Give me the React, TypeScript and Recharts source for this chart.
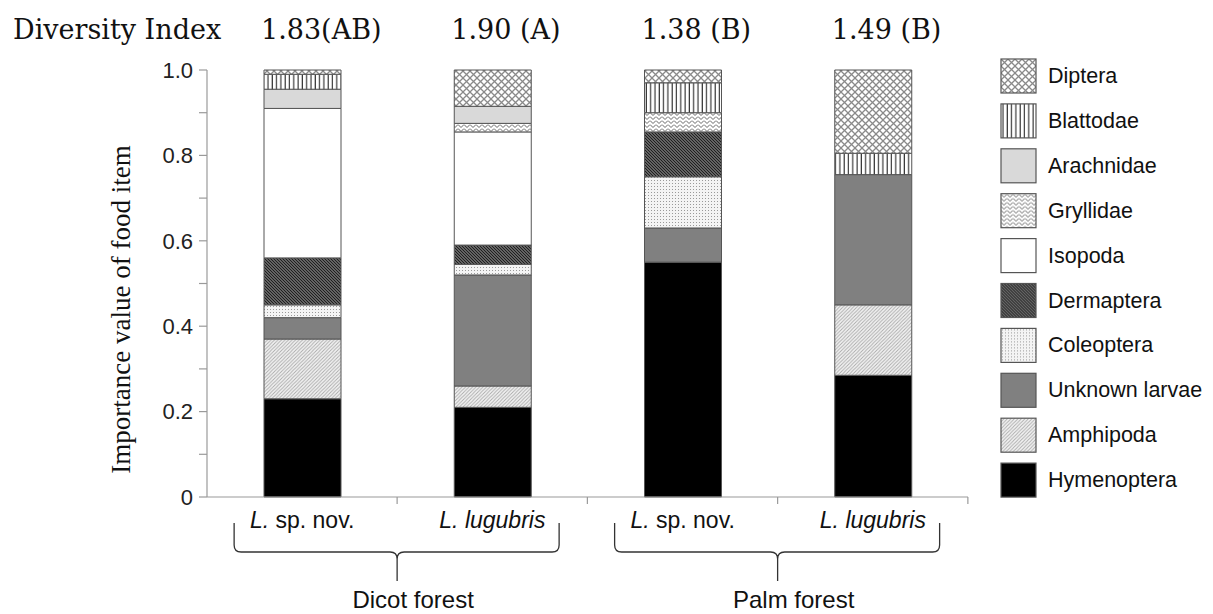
import React from "react";
import { BarChart, Bar, XAxis, YAxis, LabelList } from "recharts";

// ---- data ----
const categories = ["L. sp. nov.", "L. lugubris", "L. sp. nov.", "L. lugubris"];
const genus = ["L.", "L.", "L.", "L."];
const epithets = ["sp. nov.", "lugubris", "sp. nov.", "lugubris"];
const italicEpithet = [false, true, false, true];
const habitats = ["Dicot forest", "Dicot forest", "Palm forest", "Palm forest"];
const diversityIndex = ["1.83(AB)", "1.90 (A)", "1.38 (B)", "1.49 (B)"];
const yTicks = [0, 0.1, 0.2, 0.3, 0.4, 0.5, 0.6, 0.7, 0.8, 0.9, 1.0];

const hymenoptera = [0.23, 0.21, 0.55, 0.285];
const amphipoda = [0.14, 0.05, 0, 0.165];
const unknownLarvae = [0.05, 0.26, 0.08, 0.305];
const coleoptera = [0.03, 0.025, 0.12, 0];
const dermaptera = [0.11, 0.045, 0.105, 0];
const isopoda = [0.35, 0.265, 0, 0];
const gryllidae = [0, 0.02, 0.045, 0];
const arachnidae = [0.045, 0.04, 0, 0];
const blattodae = [0.035, 0, 0.07, 0.05];
const diptera = [0.01, 0.085, 0.03, 0.195];

// stacking order: bottom to top
const seriesNames = [
  "Hymenoptera",
  "Amphipoda",
  "Unknown larvae",
  "Coleoptera",
  "Dermaptera",
  "Isopoda",
  "Gryllidae",
  "Arachnidae",
  "Blattodae",
  "Diptera",
];
const seriesValues = [
  hymenoptera,
  amphipoda,
  unknownLarvae,
  coleoptera,
  dermaptera,
  isopoda,
  gryllidae,
  arachnidae,
  blattodae,
  diptera,
];

const data = categories.map((c, i) => {
  const row: Record<string, any> = { key: `${habitats[i]}-${c}`, idx: i, diversity: diversityIndex[i] };
  seriesNames.forEach((n, s) => {
    row[n] = seriesValues[s][i];
  });
  return row;
});

// ---- styles ----
const fills: Record<string, string> = {
  Hymenoptera: "#000000",
  Amphipoda: "url(#patAmph)",
  "Unknown larvae": "#808080",
  Coleoptera: "url(#patCole)",
  Dermaptera: "url(#patDerm)",
  Isopoda: "#ffffff",
  Gryllidae: "url(#patGryl)",
  Arachnidae: "#d9d9d9",
  Blattodae: "url(#patBlat)",
  Diptera: "url(#patDipt)",
};

const SANS = "'Liberation Sans', Arial, sans-serif";
const SERIF_TITLE = "'DejaVu Serif', serif";
const SERIF_LABEL = "'Liberation Serif', 'Times New Roman', serif";
const AXIS_GRAY = "#9a9a9a";

const XTick = (props: any) => {
  const { x, y, payload } = props;
  const i = typeof payload?.index === "number" ? payload.index : props.index;
  const half = 95;
  const first = i % 2 === 0;
  const left = x - 68;
  const center = x + 95;
  const right = x + 257;
  const top = y + 26;
  const mid = y + 55;
  const bot = y + 84;
  const r = 7;
  return (
    <g>
      <line x1={x + half} y1={y} x2={x + half} y2={y + 7} stroke={AXIS_GRAY} strokeWidth={1.2} />
      <text x={x} y={y + 31} textAnchor="middle" fontFamily={SANS} fontSize={23} fill="#111">
        <tspan fontStyle="italic">{genus[i]}</tspan>
        <tspan fontStyle={italicEpithet[i] ? "italic" : "normal"}>{" " + epithets[i]}</tspan>
      </text>
      {first && (
        <g>
          <path
            d={`M${left},${top} V${mid - r} Q${left},${mid} ${left + r},${mid} H${center - r} Q${center},${mid} ${center},${mid + r} V${bot} M${center},${mid + r} Q${center},${mid} ${center + r},${mid} H${right - r} Q${right},${mid} ${right},${mid - r} V${top}`}
            fill="none"
            stroke="#333"
            strokeWidth={1.3}
          />
          <text x={center + 16} y={y + 111} textAnchor="middle" fontFamily={SANS} fontSize={24} fill="#111">
            {habitats[i]}
          </text>
        </g>
      )}
    </g>
  );
};

const legendOrder = [...seriesNames].reverse();

const LegendBox = () => (
  <svg width={212} height={452} style={{ display: "block", overflow: "visible" }}>
    {legendOrder.map((n, k) => (
      <g key={n} transform={`translate(1, ${1 + k * 44.9})`}>
        <rect x={0} y={0} width={35} height={34} fill={fills[n]} stroke="#555" strokeWidth={1.2} />
        <text x={47} y={17} dominantBaseline="central" fontFamily={SANS} fontSize={21.5} fill="#111">
          {n}
        </text>
      </g>
    ))}
  </svg>
);

const yFormatter = (v: number) => {
  const s = Math.round(v * 10);
  if (s % 2 !== 0) return "";
  return s === 0 ? "0" : v.toFixed(1);
};

const YLabel = (props: any) => {
  const vb = props.viewBox || { x: 0, y: 62, width: 199, height: 427 };
  const cx = vb.x + 113;
  const cy = vb.y + vb.height / 2 + 26;
  return (
    <text
      x={cx}
      y={cy}
      transform={`rotate(-90, ${cx}, ${cy})`}
      textAnchor="middle"
      dominantBaseline="central"
      fontFamily={SERIF_LABEL}
      fontSize={27}
      fill="#111"
    >
      Importance value of food item
    </text>
  );
};

const DiversityLabel = (props: any) => {
  const { x, y, value } = props;
  return (
    <text x={x - 3} y={y - 31} textAnchor="start" fontFamily={SERIF_TITLE} fontSize={27} fill="#111">
      {value}
    </text>
  );
};

export default function App() {
  return (
    <div style={{ position: "relative", width: 1205, height: 606 }}>
      <BarChart
        width={1205}
        height={606}
        data={data}
        margin={{ top: 62, right: 245, left: 0, bottom: 2 }}
        barCategoryGap={0}
      >
        <defs>
          <pattern id="patDipt" width="7" height="7" patternUnits="userSpaceOnUse">
            <rect width="7" height="7" fill="#ffffff" />
            <path d="M0,0 L7,7 M7,0 L0,7" stroke="#8a8a8a" strokeWidth="1.3" />
          </pattern>
          <pattern id="patBlat" width="4.3" height="4" patternUnits="userSpaceOnUse">
            <rect width="4.3" height="4" fill="#ffffff" />
            <line x1="2" y1="0" x2="2" y2="4" stroke="#333" strokeWidth="1.2" />
          </pattern>
          <pattern id="patGryl" width="6" height="4" patternUnits="userSpaceOnUse">
            <rect width="6" height="4" fill="#ffffff" />
            <polyline points="0,0.5 3,3.5 6,0.5" fill="none" stroke="#666" strokeWidth="1" />
          </pattern>
          <pattern id="patDerm" width="3" height="3" patternUnits="userSpaceOnUse">
            <rect width="3" height="3" fill="#808080" />
            <path d="M0,0 L3,3 M-1,2 L1,4 M2,-1 L4,1" stroke="#1a1a1a" strokeWidth="1.1" />
          </pattern>
          <pattern id="patCole" width="3" height="3" patternUnits="userSpaceOnUse">
            <rect width="3" height="3" fill="#f4f4f4" />
            <rect x="1" y="1" width="1" height="1" fill="#9a9a9a" />
          </pattern>
          <pattern id="patAmph" width="3.5" height="3.5" patternUnits="userSpaceOnUse">
            <rect width="3.5" height="3.5" fill="#f4f4f4" />
            <path d="M0,3.5 L3.5,0 M-1,1 L1,-1 M2.5,4.5 L4.5,2.5" stroke="#a8a8a8" strokeWidth="0.9" />
          </pattern>
        </defs>

        <text x={5} y={31} fontFamily={SERIF_TITLE} fontSize={27} fill="#111">
          Diversity Index
        </text>

        <XAxis
          dataKey="key"
          type="category"
          height={115}
          axisLine={{ stroke: AXIS_GRAY, strokeWidth: 1.2 }}
          tickLine={false}
          tickSize={0}
          tickMargin={0}
          interval={0}
          tick={<XTick />}
        />
        <YAxis
          type="number"
          domain={[0, 1]}
          ticks={yTicks}
          interval={0}
          width={199}
          axisLine={{ stroke: AXIS_GRAY, strokeWidth: 1.2 }}
          tickLine={{ stroke: AXIS_GRAY, strokeWidth: 1.2 }}
          tickSize={8}
          tickMargin={6}
          tickFormatter={yFormatter}
          tick={{ fontFamily: SANS, fontSize: 22, fill: "#222" }}
          label={YLabel}
        />
        {seriesNames.map((n, s) => (
          <Bar
            key={n}
            dataKey={n}
            name={n}
            stackId="a"
            barSize={77}
            fill={fills[n]}
            stroke="#555"
            strokeWidth={1}
            isAnimationActive={false}
          >
            {s === seriesNames.length - 1 && (
              <LabelList dataKey="diversity" content={DiversityLabel} />
            )}
          </Bar>
        ))}
      </BarChart>
      <div style={{ position: "absolute", left: 992, top: 50 }}>
        <LegendBox />
      </div>
    </div>
  );
}
